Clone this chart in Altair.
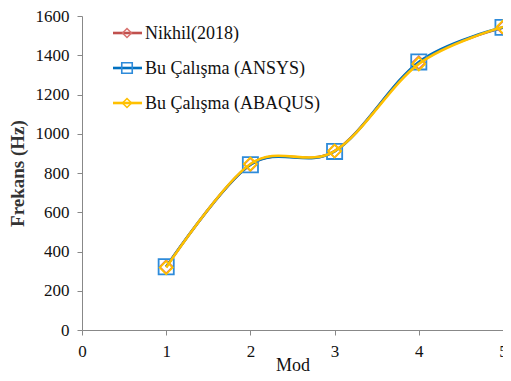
import altair as alt
import pandas as pd

modes = [1, 2, 3, 4, 5]
nikhil = [322, 843, 912, 1362, 1540]
ansys = [322, 842, 910, 1366, 1542]
abaqus = [318, 846, 912, 1356, 1544]

series_names = ["Nikhil(2018)", "Bu Çalışma (ANSYS)", "Bu Çalışma (ABAQUS)"]
series_values = [nikhil, ansys, abaqus]
line_colors = ["#C0504D", "#0070C0", "#FFC000"]
marker_colors = ["#D9726F", "#2E8BDA", "#FFC000"]
marker_shapes = ["diamond", "square", "diamond"]
marker_sizes = [170, 230, 170]
legend_marker_sizes = [80, 110, 80]

FONT = "Liberation Serif"
W, H = 421, 314

xscale = alt.Scale(domain=[0, 5], nice=False, zero=False)
yscale = alt.Scale(domain=[0, 1600], nice=False)

xaxis = alt.Axis(values=[0, 1, 2, 3, 4, 5], format="d", title="Mod", grid=False,
                 domainColor="#888888", tickColor="#888888", tickSize=5,
                 labelFont=FONT, labelFontSize=17, labelColor="#111111",
                 labelPadding=8, titleFont=FONT, titleFontSize=18,
                 titleFontWeight="normal", titleColor="#111111", titlePadding=-3,
                 labelFlush=False)
yaxis = alt.Axis(values=list(range(0, 1601, 200)), format="d", title="Frekans (Hz)",
                 grid=False, domainColor="#888888", tickColor="#888888", tickSize=5,
                 labelFont=FONT, labelFontSize=17, labelColor="#111111",
                 labelPadding=8, titleFont=FONT, titleFontSize=19,
                 titleFontWeight="bold", titleColor="#333333", titlePadding=8)

layers = []
for i, (name, vals) in enumerate(zip(series_names, series_values)):
    df = pd.DataFrame({"Mod": modes, "Frekans": vals, "Seri": name})
    enc_x = alt.X("Mod:Q", scale=xscale, axis=xaxis)
    enc_y = alt.Y("Frekans:Q", scale=yscale, axis=yaxis)
    line = alt.Chart(df).mark_line(interpolate="cardinal", color=line_colors[i],
                                   strokeWidth=2.6).encode(x=enc_x, y=enc_y)
    pts = alt.Chart(df).mark_point(shape=marker_shapes[i], filled=False,
                                   color=marker_colors[i], strokeWidth=1.8,
                                   size=marker_sizes[i], opacity=1).encode(
        x=enc_x, y=enc_y)
    layers += [line, pts]

# legend (inside plot, top-left)
leg_y = [17, 52, 87]
for i, name in enumerate(series_names):
    ldf = pd.DataFrame({"label": [name]})
    base = alt.Chart(ldf)
    layers.append(base.mark_rule(color=line_colors[i], strokeWidth=2.6).encode(
        x=alt.value(31), x2=alt.value(60), y=alt.value(leg_y[i])))
    layers.append(base.mark_point(shape=marker_shapes[i], filled=False,
                                  color=marker_colors[i], strokeWidth=1.6,
                                  size=legend_marker_sizes[i], opacity=1).encode(
        x=alt.value(45), y=alt.value(leg_y[i])))
    layers.append(base.mark_text(align="left", baseline="middle", font=FONT,
                                 fontSize=18, color="#111111").encode(
        x=alt.value(63), y=alt.value(leg_y[i] + 1), text="label:N"))

chart = alt.layer(*layers).properties(
    width=W, height=H,
    autosize=alt.AutoSizeParams(type="none"),
    padding={"left": 74, "top": 8, "right": 0, "bottom": 50},
).configure(background="white").configure_view(stroke=None)

chart.save("out.html", embed_options={"renderer": "svg", "actions": False})
